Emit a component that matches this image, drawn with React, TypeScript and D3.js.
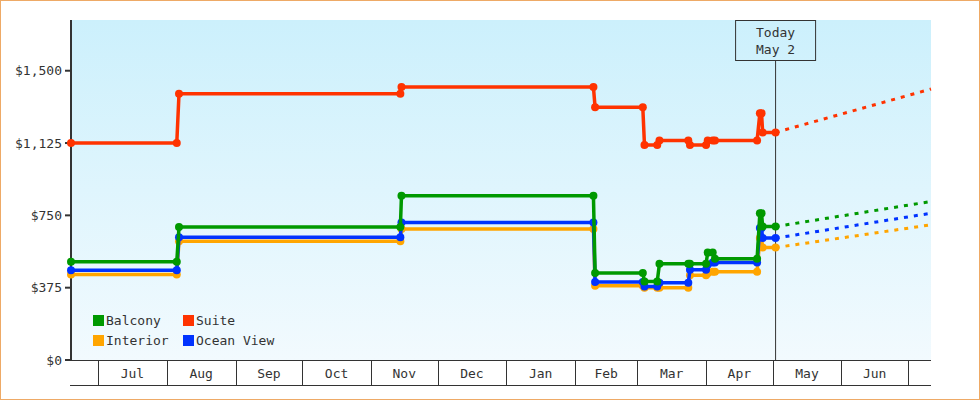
import React from "react";
import * as d3 from "d3";

// sample dates shared by every cabin series
const dates = [
  "2018-06-18 20:00", "2018-08-05 12:00", "2018-08-06 12:00", "2018-11-14 06:00",
  "2018-11-14 18:00", "2019-02-09 06:00", "2019-02-10 00:00", "2019-03-03 12:00",
  "2019-03-04 06:00", "2019-03-10 00:00", "2019-03-11 00:00", "2019-03-24 00:00",
  "2019-03-24 18:00", "2019-04-01 00:00", "2019-04-01 18:00", "2019-04-04 00:00",
  "2019-04-05 00:00", "2019-04-24 00:00", "2019-04-25 06:00", "2019-04-26 00:00",
  "2019-04-26 12:00", "2019-05-02 08:00",
];

const interior = [443, 443, 616, 616, 679, 679, 385, 385, 375, 375, 375, 375, 440, 440, 450, 457, 457, 457, 632, 632, 583, 583];
const oceanView = [466, 466, 637, 637, 713, 713, 404, 404, 381, 381, 400, 400, 468, 468, 494, 505, 505, 505, 684, 684, 632, 632];
const balcony = [509, 509, 689, 689, 852, 852, 451, 451, 407, 407, 499, 499, 499, 499, 557, 557, 525, 525, 761, 761, 692, 692];
const suite = [1125, 1125, 1380, 1380, 1415, 1415, 1310, 1310, 1115, 1115, 1138, 1138, 1115, 1115, 1138, 1138, 1138, 1138, 1280, 1280, 1180, 1180];

// projected price at the right edge of the chart
const forecastDate = "2019-07-11 08:45";
const forecast = { interior: 701, oceanView: 761, balcony: 822, suite: 1405 };

const todayDate = "2019-05-02 08:00";
const todayLabel = ["Today", "May 2"];
const yTicks = [0, 375, 750, 1125, 1500];

const parse = d3.timeParse("%Y-%m-%d %H:%M");

const series = [
  { key: "interior", name: "Interior", values: interior, color: "#ffa500" },
  { key: "oceanView", name: "Ocean View", values: oceanView, color: "#0033ff" },
  { key: "balcony", name: "Balcony", values: balcony, color: "#009900" },
  { key: "suite", name: "Suite", values: suite, color: "#ff3300" },
];
const legendOrder = ["balcony", "suite", "interior", "oceanView"];

const W = 980;
const H = 400;
const left = 71;
const right = 931;
const top = 20;
const bottom = 360;
const axisBottom = 385;
const font = "DejaVu Sans Mono, monospace";
const ink = "#333";

export default function App() {
  const x = d3.scaleTime()
    .domain([parse(dates[0])!, parse(forecastDate)!])
    .range([left, right]);
  const y = d3.scaleLinear().domain([0, 1763]).range([bottom, top]);
  const fmt = d3.format("$,");

  const line = d3.line<[Date, number]>()
    .x((d) => x(d[0]))
    .y((d) => y(d[1]));

  const months = d3.timeMonth.range(x.domain()[0], x.domain()[1]);
  const monthFmt = d3.timeFormat("%b");
  const tx = x(parse(todayDate)!);

  return (
    <>
      <style>{"body{margin:0}"}</style>
      <svg width={W} height={H} style={{ display: "block" }}>
        <defs>
          <linearGradient id="bg" x1="0" y1="0" x2="0" y2="1">
            <stop offset="0%" stopColor="#ccf0fc" />
            <stop offset="100%" stopColor="#f2fafe" />
          </linearGradient>
        </defs>
        <rect x={0.5} y={0.5} width={W - 1} height={H - 1} fill="#fff" stroke="#eeaa66" />
        <rect x={left} y={top} width={right - left} height={bottom - top} fill="url(#bg)" />

        {/* y axis */}
        <line x1={left} x2={left} y1={top} y2={bottom + 1} stroke={ink} strokeWidth={2} />
        {yTicks.map((t) => (
          <g key={t}>
            <line x1={65} x2={left} y1={y(t)} y2={y(t)} stroke={ink} strokeWidth={2} />
            <text x={62} y={y(t)} dy="0.35em" textAnchor="end" fontFamily={font} fontSize={13} fill={ink}>
              {fmt(t)}
            </text>
          </g>
        ))}

        {/* month band */}
        <line x1={left} x2={right} y1={bottom + 0.5} y2={bottom + 0.5} stroke={ink} />
        <line x1={left - 1} x2={right} y1={axisBottom + 0.5} y2={axisBottom + 0.5} stroke={ink} />
        {months.map((m, i) => {
          const mx = Math.round(x(m)) + 0.5;
          const next = months[i + 1];
          return (
            <g key={+m}>
              <line x1={mx} x2={mx} y1={bottom} y2={axisBottom} stroke={ink} />
              {next && (
                <text x={(x(m) + x(next)) / 2} y={378} textAnchor="middle" fontFamily={font} fontSize={13} fill={ink}>
                  {monthFmt(m)}
                </text>
              )}
            </g>
          );
        })}

        {/* today marker */}
        <line x1={tx} x2={tx} y1={60} y2={bottom} stroke={ink} />
        <rect x={tx - 40} y={top + 0.5} width={80} height={40} fill="none" stroke={ink} />
        {todayLabel.map((s, i) => (
          <text key={s} x={tx} y={37 + i * 17} textAnchor="middle" fontFamily={font} fontSize={13} fill={ink}>
            {s}
          </text>
        ))}

        {/* forecast dashes */}
        {series.map((s) => {
          const last = s.values[s.values.length - 1];
          const pts: [Date, number][] = [
            [parse(dates[dates.length - 1])!, last],
            [parse(forecastDate)!, (forecast as any)[s.key]],
          ];
          return (
            <path key={s.key} d={line(pts) || ""} fill="none" stroke={s.color} strokeWidth={3} strokeDasharray="4 6" />
          );
        })}

        {/* price history */}
        {series.map((s) => {
          const pts: [Date, number][] = s.values.map((v, i) => [parse(dates[i])!, v]);
          return (
            <g key={s.key}>
              <path d={line(pts) || ""} fill="none" stroke={s.color} strokeWidth={3.5} strokeLinejoin="round" />
              {pts.map((p, i) => (
                <circle key={i} cx={x(p[0])} cy={y(p[1])} r={4} fill={s.color} />
              ))}
            </g>
          );
        })}

        {/* legend */}
        {legendOrder.map((k, i) => {
          const s = series.find((d) => d.key === k)!;
          const lx = 93 + (i % 2) * 90;
          const ly = 315 + Math.floor(i / 2) * 20;
          return (
            <g key={k}>
              <rect x={lx} y={ly} width={11} height={11} fill={s.color} />
              <text x={lx + 13} y={ly + 10} fontFamily={font} fontSize={13} fill={ink}>
                {s.name}
              </text>
            </g>
          );
        })}
      </svg>
    </>
  );
}
